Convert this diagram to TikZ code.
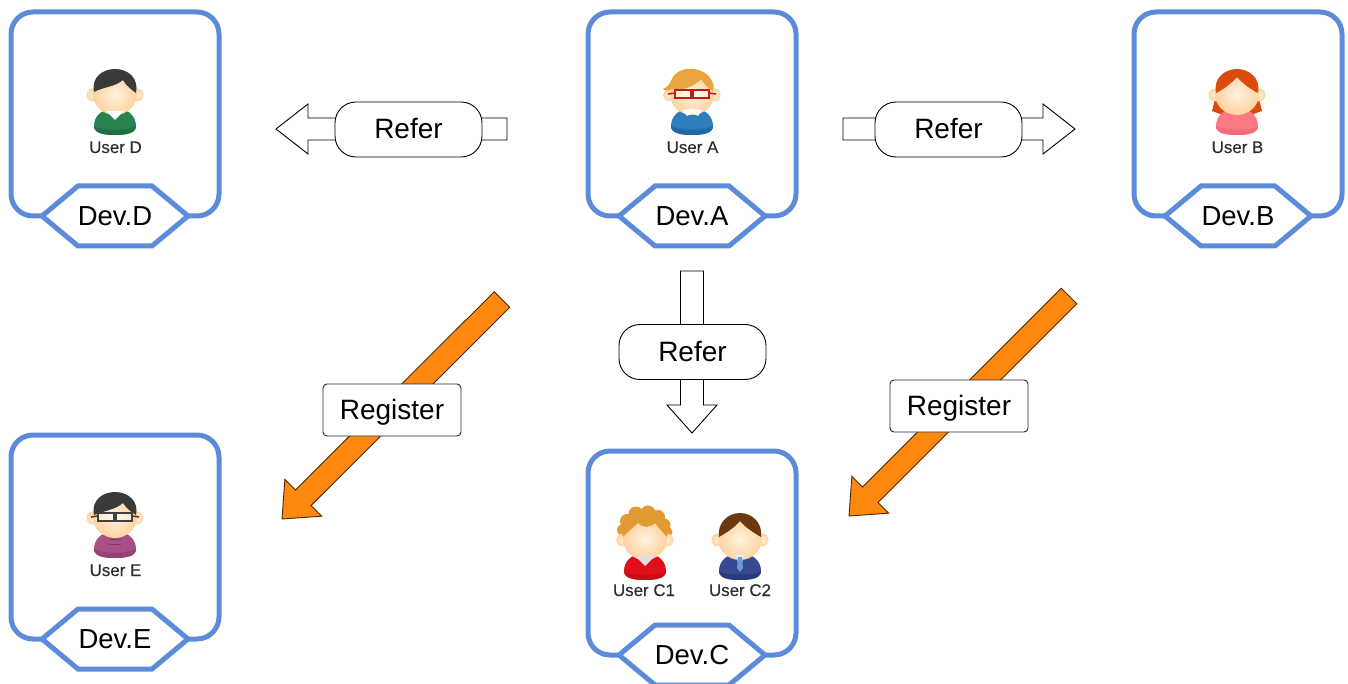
\documentclass[tikz,border=0pt]{standalone}
\usepackage{fontspec}
\setmainfont{Liberation Sans}
\newfontfamily\userfont[FakeBold=0.25]{Liberation Sans}
\usetikzlibrary{calc}
\definecolor{devblue}{HTML}{5B8BD9}
\definecolor{arroworange}{HTML}{FF8811}
\definecolor{skin}{HTML}{FFD3A0}
\definecolor{skinlight}{HTML}{FFF1DF}
\definecolor{bodyA}{HTML}{2F7DBB}\definecolor{bodyAd}{HTML}{1F68A5}
\definecolor{bodyD}{HTML}{2A8452}\definecolor{bodyDd}{HTML}{1F6F43}
\definecolor{bodyB}{HTML}{FB7A85}\definecolor{bodyBd}{HTML}{F26C78}
\definecolor{bodyE}{HTML}{A84F86}\definecolor{bodyEd}{HTML}{954176}
\definecolor{bodyCa}{HTML}{E0101A}\definecolor{bodyCad}{HTML}{C80D16}
\definecolor{bodyCb}{HTML}{38488F}\definecolor{bodyCbd}{HTML}{2B3A7C}
\definecolor{hairA}{HTML}{E8A43F}
\definecolor{hairB}{HTML}{DC4A10}
\definecolor{hairD}{HTML}{3A3A3A}
\definecolor{hairCa}{HTML}{E29A32}
\definecolor{hairCb}{HTML}{6B3A10}
\tikzset{
  devbox/.style={draw=devblue,line width=5pt,rounded corners=22pt,minimum width=208pt,minimum height=204pt,inner sep=0pt,fill=white},
  hexline/.style={draw=devblue,line width=5pt,fill=white,line join=miter},
  devtext/.style={font=\fontsize{27.5}{30}\selectfont,text height=19pt,text depth=0pt,inner sep=0pt},
  usertext/.style={font=\userfont\fontsize{16.9}{20}\selectfont,text=black!82,text height=12pt,text depth=0pt,inner sep=0pt},
  referbox/.style={draw=black,line width=0.9pt,fill=white,rounded corners=21pt,minimum width=147pt,minimum height=55pt,inner sep=0pt,font=\fontsize{28}{30}\selectfont,text height=19pt,text depth=0pt},
  regbox/.style={draw=black!85,line width=0.9pt,fill=white,rounded corners=4pt,minimum width=138pt,minimum height=52pt,inner sep=0pt,font=\fontsize{28}{30}\selectfont,text height=19pt,text depth=0pt},
  referarrow/.style={draw=black,line width=0.9pt,fill=white,line join=miter},
  regarrow/.style={draw=black!70!arroworange,line width=0.9pt,fill=arroworange,line join=miter},
}
% tail, tip, shaft half width, head half width, head length, style
\newcommand{\blockarrow}[6]{%
  \coordinate (hb) at ($(#2)!#5pt!(#1)$);
  \path[#6] ($(#1)!#3pt!90:(#2)$) -- ($(hb)!#3pt!90:(#2)$) -- ($(hb)!#4pt!90:(#2)$) -- (#2)
    -- ($(hb)!#4pt!-90:(#2)$) -- ($(hb)!#3pt!-90:(#2)$) -- ($(#1)!#3pt!-90:(#2)$) -- cycle;
}
\newcommand{\devhex}[3]{%
  \node[devtext] (hex#1) at (#2,#3) {\phantom{Dev.#1}};
  \path[hexline] ($(hex#1)+(-73,0)$) -- ($(hex#1)+(-37,-30)$) -- ($(hex#1)+(37,-30)$) -- ($(hex#1)+(73,0)$)
    -- ($(hex#1)+(37,30)$) -- ($(hex#1)+(-37,30)$) -- cycle;
  \node[devtext] (lab#1) at (hex#1) {Dev.#1};
}
% head with ears, body colour
\newcommand{\personbase}[2]{%
  \fill[#1] (-21,31) .. controls (-21,22) and (-14,15) .. (-7,15) -- (7,15) .. controls (14,15) and (21,22) .. (21,31)
     .. controls (21,38) and (12,40) .. (0,40) .. controls (-12,40) and (-21,38) .. (-21,31) -- cycle;
  \fill[#2] (-21,31) .. controls (-21,38) and (-12,40) .. (0,40) .. controls (12,40) and (21,38) .. (21,31) .. controls (14,36) and (-14,36) .. (-21,31) -- cycle;
  \shade[inner color=skinlight,outer color=skin] (-22,0) circle[radius=6.5];
  \shade[inner color=skinlight,outer color=skin] (22,0) circle[radius=6.5];
  \shade[inner color=skinlight,outer color=skin] (0,-1) ellipse[x radius=22,y radius=21];
}
\newcommand{\glasses}[1]{%
  \draw[#1,line width=1.6pt,fill=white,fill opacity=.45] (-17,-5) rectangle (-1,3);
  \draw[#1,line width=1.6pt,fill=white,fill opacity=.45] (1,-5) rectangle (17,3);
  \draw[#1,line width=1.6pt] (-1,-2) -- (1,-2) (-17,-2) -- (-24,-1) (17,-2) -- (24,-1);
}
\begin{document}
\begin{tikzpicture}[x=1pt,y=-1pt]
\useasboundingbox (0,0) rectangle (1348,684);
\fill[white] (0,0) rectangle (1348,684);

% device boxes
\node[devbox] (boxD) at (115,114) {};
\node[devbox] (boxA) at (692,114) {};
\node[devbox] (boxB) at (1238,114) {};
\node[devbox] (boxE) at (115,537) {};
\node[devbox] (boxC) at (692,553) {};
\devhex{D}{115}{216}
\devhex{A}{692}{216}
\devhex{B}{1238}{216}
\devhex{E}{115}{639}
\devhex{C}{692}{655}

% User A
\begin{scope}[shift={(692,95)}]
  \personbase{bodyA}{bodyAd}
  \fill[white] (-10,15) -- (0,14) -- (10,15) -- (6,21) -- (0,18) -- (-5,21) -- cycle;
  \fill[hairA] (-29,-6) .. controls (-24,-8) and (-22,-12) .. (-20,-16) .. controls (-14,-30) and (12,-30) .. (20,-14)
     .. controls (22,-10) and (22,-7) .. (21,-4) .. controls (17,-6) and (13,-10) .. (9,-16) .. controls (2,-8) and (-10,-4) .. (-20,-6) .. controls (-23,-4) and (-27,-4) .. (-29,-6) -- cycle;
  \glasses{red!75!black!90}
\end{scope}
\node[usertext] (userA) at (692.5,147) {User A};

% User D
\begin{scope}[shift={(115,95)}]
  \personbase{bodyD}{bodyDd}
  \fill[white] (-9,16) -- (9,16) -- (0,25) -- cycle;
  \fill[hairD] (-21,-3) .. controls (-24,-18) and (-12,-26) .. (0,-26) .. controls (14,-26) and (24,-16) .. (21,-2)
     .. controls (16,-6) and (12,-8) .. (8,-15) .. controls (0,-8) and (-12,-8) .. (-21,-3) -- cycle;
\end{scope}
\node[usertext] (userD) at (115.5,147) {User D};

% User B
\begin{scope}[shift={(1237,95)}]
  \fill[hairB] (-22,-2) .. controls (-22,6) and (-24,12) .. (-25,16) -- (-14,20) -- (14,20) -- (25,16) .. controls (24,12) and (22,6) .. (22,-2) -- cycle;
  \personbase{bodyB}{bodyBd}
  \fill[hairB] (-21,-2) .. controls (-24,-17) and (-12,-26) .. (0,-26) .. controls (12,-26) and (24,-17) .. (21,-2)
     .. controls (17,-4) and (8,-9) .. (0,-18) .. controls (-8,-9) and (-17,-4) .. (-21,-2) -- cycle;
\end{scope}
\node[usertext] (userB) at (1237.5,147) {User B};

% User E
\begin{scope}[shift={(115,518)}]
  \personbase{bodyE}{bodyEd}
  \draw[bodyEd!85!black,line width=1pt] (-6,21) -- (6,21) (-6,26) -- (6,26);
  \fill[hairD] (-21,-3) .. controls (-24,-18) and (-12,-26) .. (0,-26) .. controls (14,-26) and (24,-16) .. (21,-3)
     .. controls (16,-6) and (12,-9) .. (8,-15) .. controls (0,-8) and (-12,-7) .. (-21,-3) -- cycle;
  \glasses{black!75}
\end{scope}
\node[usertext] (userE) at (115.5,570) {User E};

% User C1
\begin{scope}[shift={(645,540)}]
  \fill[hairCa]
    (-22,-10) circle[radius=6] (-18,-19) circle[radius=7] (-9,-26) circle[radius=7.5] (3,-27) circle[radius=7.5] (13,-23) circle[radius=7] (19,-15) circle[radius=6.5] (22,-8) circle[radius=5.5];
  \personbase{bodyCa}{bodyCad}
  \fill[black!12] (-10,16) -- (10,16) -- (0,26) -- cycle;
  \fill[hairCa] (-22,-3) .. controls (-26,-16) and (-14,-24) .. (0,-24) .. controls (14,-24) and (26,-16) .. (22,-3)
     .. controls (18,-8) and (14,-11) .. (10,-17) .. controls (6,-12) and (-3,-12) .. (-7,-17) .. controls (-12,-12) and (-18,-8) .. (-22,-3) -- cycle;
\end{scope}
\node[usertext] (userCa) at (644,590) {User C1};

% User C2
\begin{scope}[shift={(740,540)}]
  \personbase{bodyCb}{bodyCbd}
  \fill[white!85!cyan] (-5,15) -- (5,15) -- (1.5,23) -- (-1.5,23) -- cycle;
  \fill[cyan!50!blue!60] (-2,17) -- (2,17) -- (3,28) -- (0,32) -- (-3,28) -- cycle;
  \fill[hairCb] (-21,-3) .. controls (-23,-17) and (-12,-27) .. (0,-27) .. controls (12,-27) and (23,-17) .. (21,-3)
     .. controls (14,-7) and (6,-12) .. (0,-19) .. controls (-6,-12) and (-14,-7) .. (-21,-3) -- cycle;
\end{scope}
\node[usertext] (userCb) at (740,590) {User C2};

% refer arrows
\coordinate (rlTail) at (507,129); \coordinate (rlTip) at (276,129);
\coordinate (rrTail) at (843,129); \coordinate (rrTip) at (1075,129);
\coordinate (rdTail) at (692,271); \coordinate (rdTip) at (692,433);
\blockarrow{rlTail}{rlTip}{11}{25}{32}{referarrow}
\blockarrow{rrTail}{rrTip}{11}{25}{32}{referarrow}
\blockarrow{rdTail}{rdTip}{11.5}{25}{28}{referarrow}
\node[referbox] (referL) at (408.5,129.5) {Refer};
\node[referbox] (referR) at (948.5,129.5) {Refer};
\node[referbox] (referD) at (692.5,352) {Refer};

% register arrows
\coordinate (ralTail) at (502,299.5); \coordinate (ralTip) at (282,519);
\coordinate (rarTail) at (1069,296); \coordinate (rarTip) at (849,516);
\blockarrow{ralTail}{ralTip}{11}{26}{30}{regarrow}
\blockarrow{rarTail}{rarTip}{11}{26}{30}{regarrow}
\node[regbox] (regL) at (392,410) {Register};
\node[regbox] (regR) at (959,406) {Register};
\end{tikzpicture}
\end{document}
